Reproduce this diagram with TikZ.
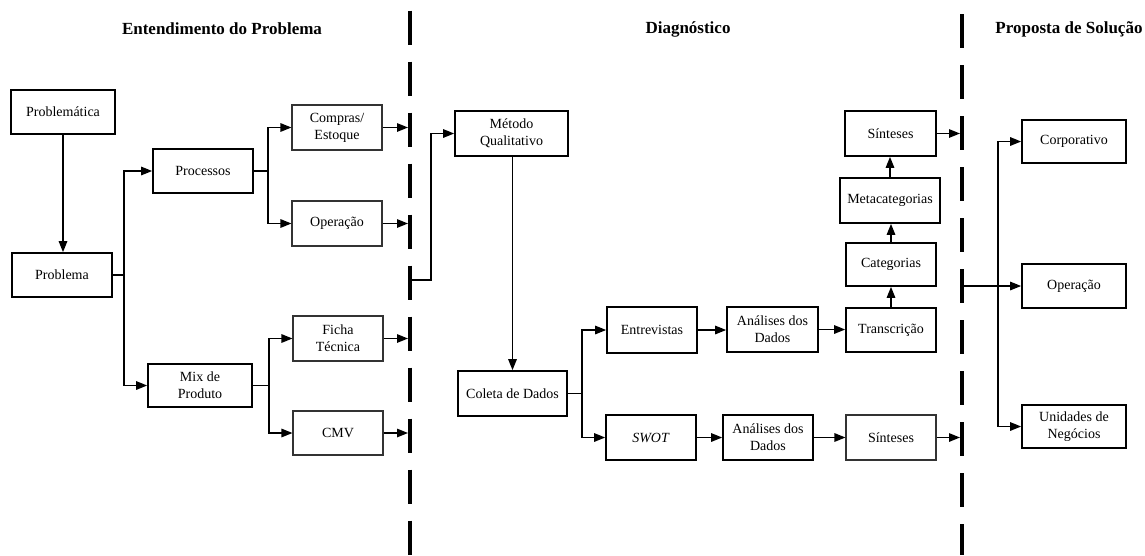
\documentclass[tikz,border=0pt]{standalone}
\usepackage{fontspec}
\setmainfont{Liberation Serif}
\usetikzlibrary{arrows.meta}
\begin{document}
\begin{tikzpicture}[x=1pt,y=-1pt,
  box/.style={draw, line width=1.7pt, align=center, inner sep=2pt, font=\fontsize{14}{17}\selectfont},
  thinbox/.style={box, line width=1.1pt, draw=black!80},
  arr/.style={line width=1.4pt, -{Triangle[length=11pt,width=8.5pt]}},
  conn/.style={line width=1.4pt},
  sep/.style={line width=4pt, dash pattern=on 34pt off 17pt},
  ttl/.style={font=\fontsize{17}{20}\selectfont\bfseries}
]
\useasboundingbox (0,0) rectangle (1145,555);

% titles
\node[ttl] (t1) at (222,29) {Entendimento do Problema};
\node[ttl] (t2) at (688,29) {Diagnóstico};
\node[ttl] (t3) at (1069,29) {Proposta de Solução};

% separators
\draw[sep] (410,10.5) -- (410,555);
\draw[sep] (962,14) -- (962,555);

% left part
\node[box, minimum width=104pt, minimum height=44pt] (pm) at (63,112) {Problemática};
\node[box, minimum width=100pt, minimum height=44pt] (pb) at (62,275) {Problema};
\node[box, minimum width=100pt, minimum height=44pt] (proc) at (203,171) {Processos};
\node[box, minimum width=104pt, minimum height=43pt] (mix) at (200,385.5) {Mix de\\Produto};
\node[thinbox, minimum width=90pt, minimum height=45pt] (comp) at (337,127.5) {Compras/\\Estoque};
\node[thinbox, minimum width=90pt, minimum height=45pt] (op1) at (337,223.5) {Operação};
\node[thinbox, minimum width=90pt, minimum height=45pt] (ficha) at (338,338.5) {Ficha\\Técnica};
\node[thinbox, minimum width=90pt, minimum height=44pt] (cmv) at (338,433) {CMV};

% middle part
\node[box, minimum width=113pt, minimum height=45pt] (met) at (511.5,133.5) {Método\\Qualitativo};
\node[box, minimum width=109pt, minimum height=45pt] (col) at (512.5,393.5) {Coleta de Dados};
\node[box, minimum width=90pt, minimum height=46pt] (ent) at (652,330) {Entrevistas};
\node[box, minimum width=91pt, minimum height=45pt] (an1) at (772.5,329.5) {Análises dos\\Dados};
\node[box, minimum width=90pt, minimum height=44pt] (tr) at (891,330) {Transcrição};
\node[box, minimum width=90pt, minimum height=45pt] (swot) at (651,437.5) {\textit{SWOT}};
\node[box, minimum width=90pt, minimum height=45pt] (an2) at (768,437.5) {Análises dos\\Dados};
\node[thinbox, minimum width=90pt, minimum height=45pt] (sin2) at (891,437.5) {Sínteses};
\node[box, minimum width=90pt, minimum height=43pt] (cat) at (891,264.5) {Categorias};
\node[box, minimum width=100pt, minimum height=45pt] (meta) at (890,200.5) {Metacategorias};
\node[box, minimum width=91pt, minimum height=45pt] (sin1) at (890.5,133.5) {Sínteses};

% right part
\node[box, minimum width=104pt, minimum height=43pt] (corp) at (1074,141.5) {Corporativo};
\node[box, minimum width=104pt, minimum height=44pt] (op2) at (1074,286) {Operação};
\node[box, minimum width=104pt, minimum height=43pt] (un) at (1074,426.5) {Unidades de\\Negócios};

% coordinates
\coordinate (j1) at (124,0);
\coordinate (j2) at (268,0);
\coordinate (j3) at (269,0);
\coordinate (j4) at (431,0);
\coordinate (j5) at (582,0);
\coordinate (j6) at (998,0);
\coordinate (d1) at (408,0);
\coordinate (d1c) at (410,280);
\coordinate (d2) at (960,0);
\coordinate (d2b) at (962,286);

% connectors left
\draw[arr] (pm.south) -- (pm.south |- pb.north);
\draw[arr] (pb.east) -- (pb.east -| j1) |- (proc.west);
\draw[arr] (pb.east -| j1) |- (mix.west);
\draw[arr] (proc.east) -- (proc.east -| j2) |- (comp.west);
\draw[arr] (proc.east -| j2) |- (op1.west);
\draw[arr] (mix.east) -- (mix.east -| j3) |- (ficha.west);
\draw[arr] (mix.east -| j3) |- (cmv.west);
\draw[arr] (comp.east) -- (comp.east -| d1);
\draw[arr] (op1.east) -- (op1.east -| d1);
\draw[arr] (ficha.east) -- (ficha.east -| d1);
\draw[arr] (cmv.east) -- (cmv.east -| d1);

% connectors middle
\draw[arr] (d1c) -- (d1c -| j4) |- (met.west);
\draw[arr] ([xshift=1pt]met.south) -- ([xshift=1pt]met.south |- col.north);
\draw[arr] (col.east) -- (col.east -| j5) |- (ent.west);
\draw[arr] (col.east -| j5) |- (swot.west);
\draw[arr] (ent.east) -- (ent.east -| an1.west);
\draw[arr] (an1.east) -- (an1.east -| tr.west);
\draw[arr] (tr.north) -- (tr.north |- cat.south);
\draw[arr] (cat.north) -- (cat.north |- meta.south);
\draw[arr] (meta.north) -- (meta.north |- sin1.south);
\draw[arr] (sin1.east) -- (sin1.east -| d2);
\draw[arr] (swot.east) -- (swot.east -| an2.west);
\draw[arr] (an2.east) -- (an2.east -| sin2.west);
\draw[arr] (sin2.east) -- (sin2.east -| d2);

% connectors right
\draw[arr] (d2b) -- (op2.west);
\draw[arr] (d2b -| j6) |- (corp.west);
\draw[arr] (d2b -| j6) |- (un.west);
\end{tikzpicture}
\end{document}
